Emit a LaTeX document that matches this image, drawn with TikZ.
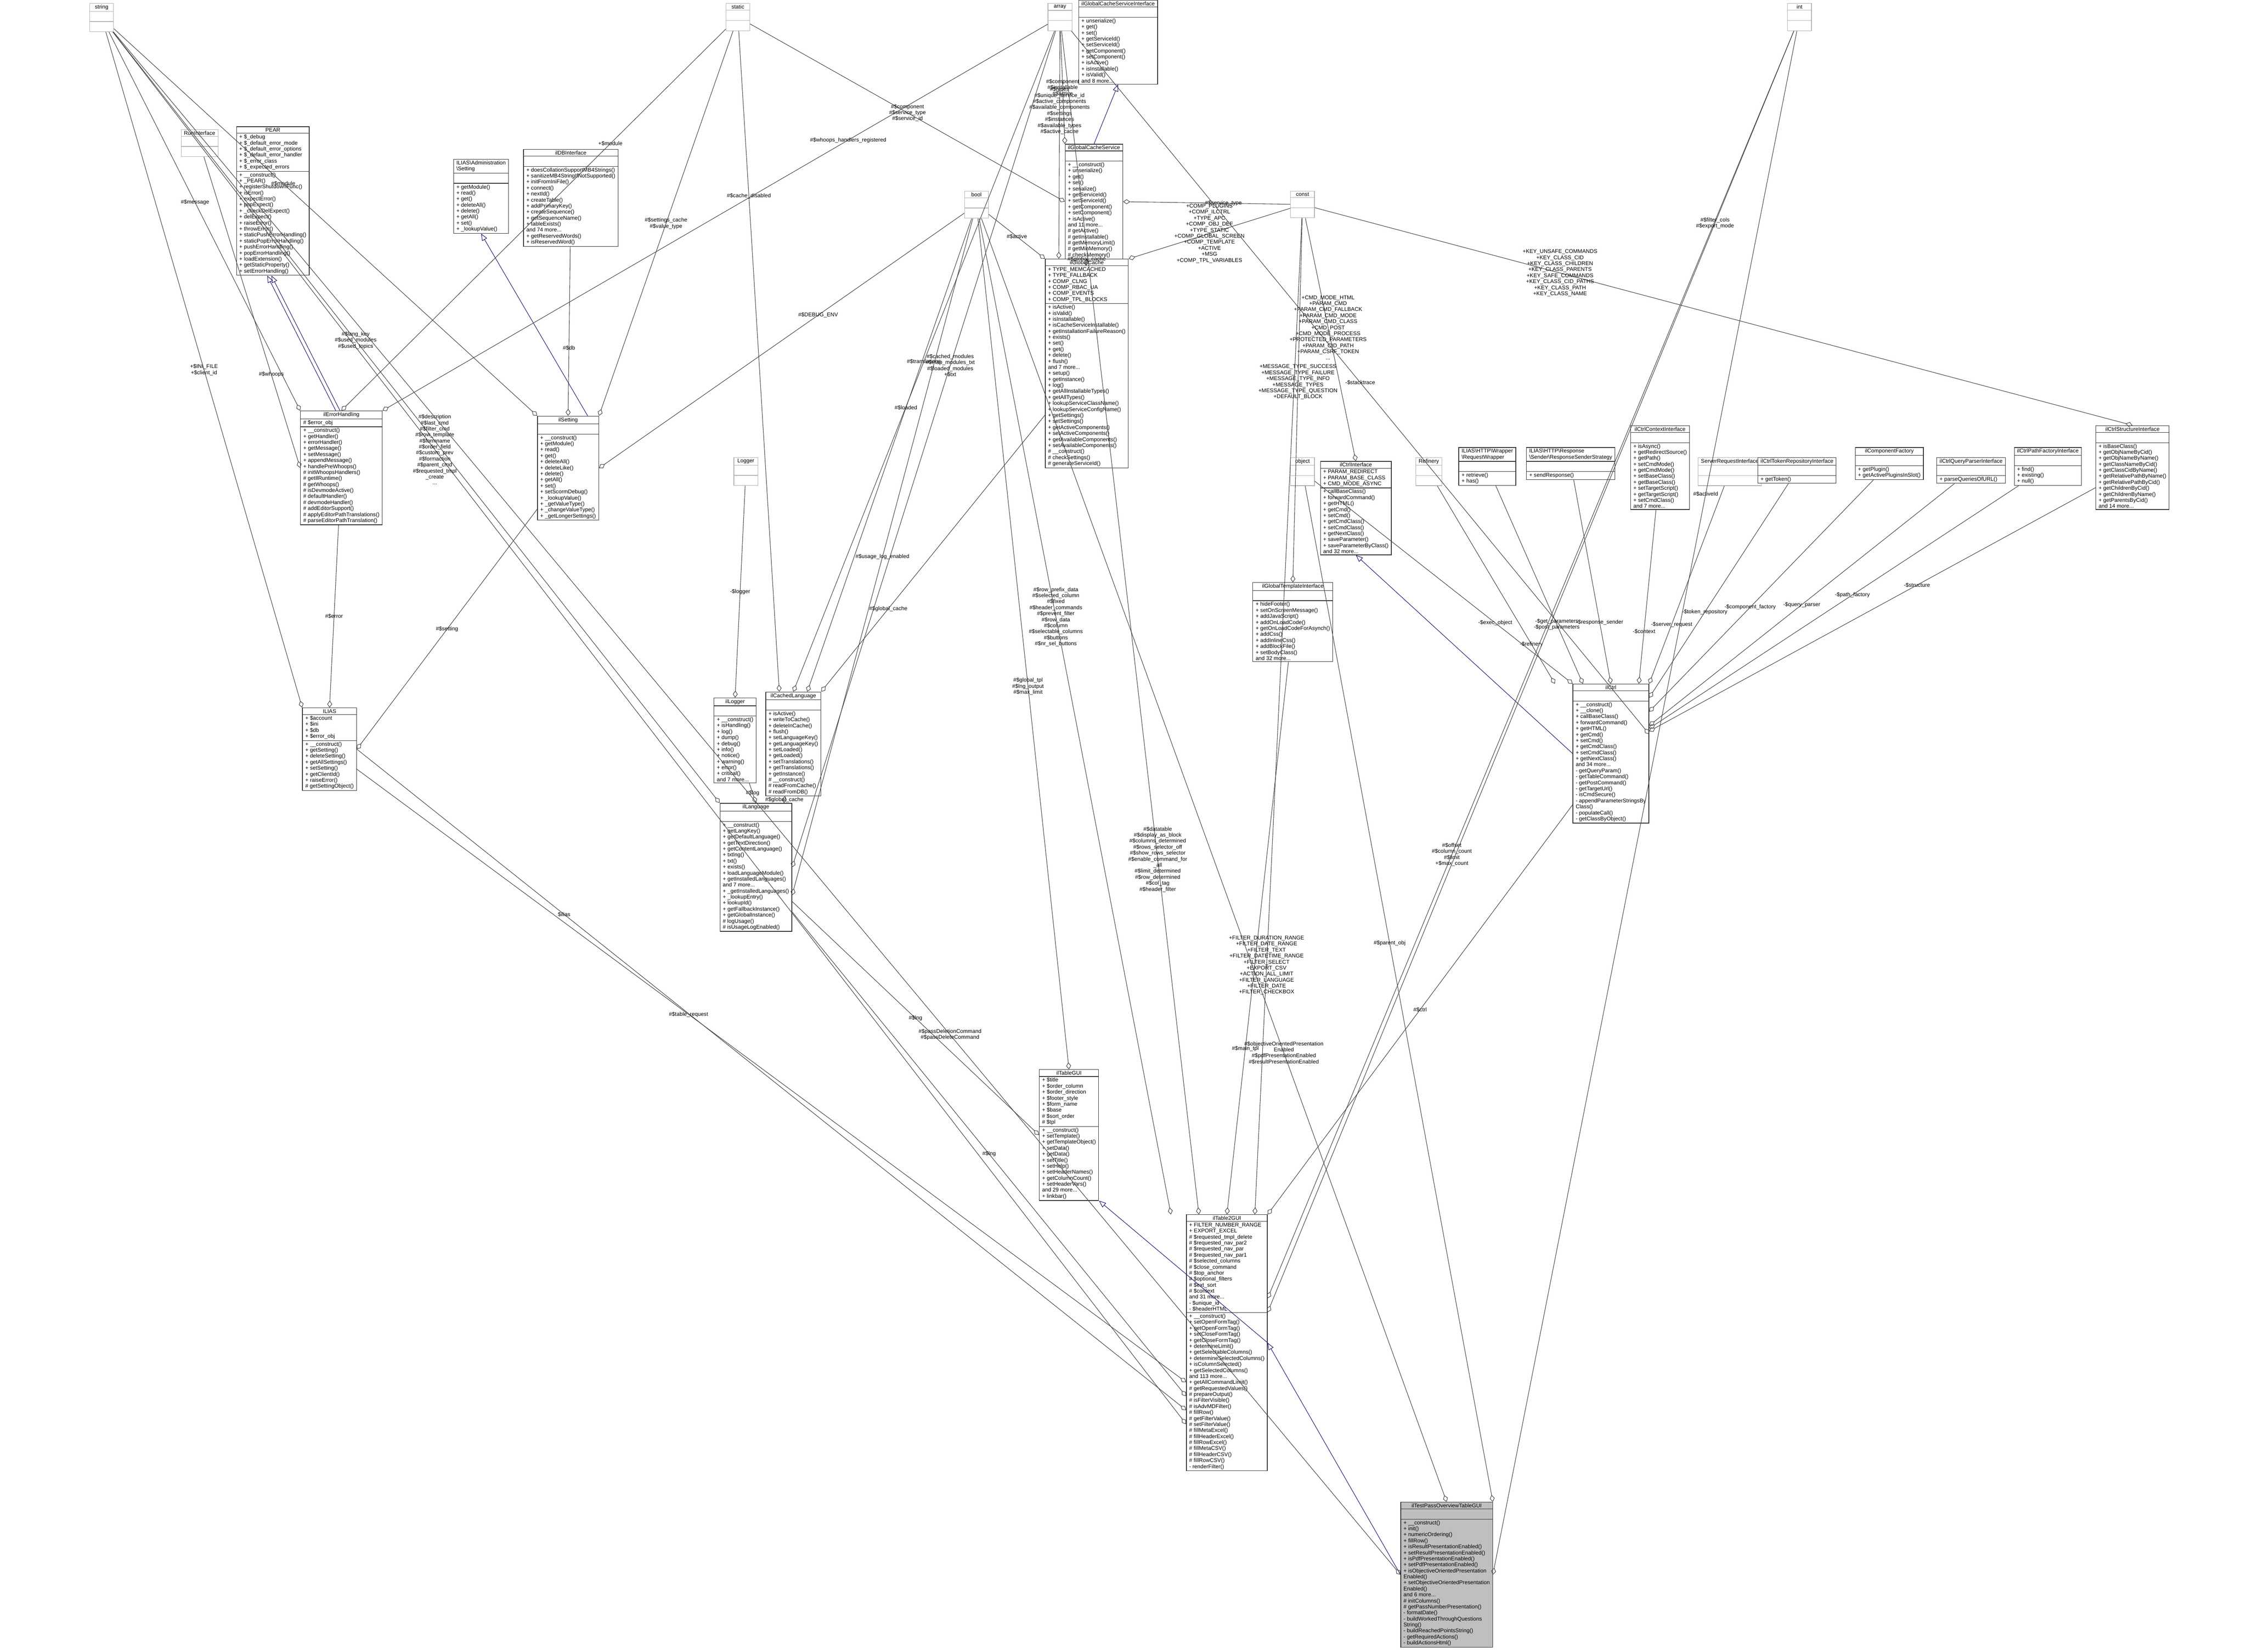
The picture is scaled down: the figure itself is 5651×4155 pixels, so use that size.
\documentclass[tikz,border=0pt]{standalone}
\usepackage{fontspec}
\setmainfont{Liberation Sans}
\usetikzlibrary{shapes.multipart,arrows.meta}
\definecolor{midnight}{HTML}{191970}
\newcommand\cfont{\fontsize{3.9}{4.3}\selectfont}

\begin{document}
\begin{tikzpicture}[
    x=0.01cm, y=-0.01cm,
    cls/.style={rectangle split, rectangle split parts=3, draw=black!80, line width=0.4pt,
        fill=white, anchor=north west, font=\cfont, align=left, inner xsep=2pt, inner ysep=0.8pt,
        rectangle split part align={center,left,left}, rectangle split empty part height=3pt},
    undoc/.style={cls, draw=black!30, minimum width=#1},
    undoc/.default=1.5cm,
    agg/.style={draw=black!75, line width=0.35pt, {Diamond[open,length=5pt,width=3.5pt]}-},
    inh/.style={draw=midnight, line width=0.35pt, -{Triangle[open,length=5pt,width=4pt]}},
    lbl/.style={font=\cfont, align=center, inner sep=0.5pt}
]
    \useasboundingbox (0,0) rectangle (5651,4155);

    % Types without documentation
    \node[undoc=0.6cm] (string) at (225,8) {string\nodepart{two}\nodepart{three}};
    \node[undoc=0.6cm] (static) at (1825,8) {static\nodepart{two}\nodepart{three}};
    \node[undoc=0.6cm] (array) at (2635,8) {array\nodepart{two}\nodepart{three}};
    \node[undoc=0.6cm] (int) at (4495,8) {int\nodepart{two}\nodepart{three}};
    \node[undoc=0.6cm] (bool) at (2425,480) {bool\nodepart{two}\nodepart{three}};
    \node[undoc=0.6cm] (const) at (3245,480) {const\nodepart{two}\nodepart{three}};
    \node[undoc=0.6cm] (object) at (3245,1150) {object\nodepart{two}\nodepart{three}};
    \node[undoc=0.6cm] (refinery) at (3560,1150) {Refinery\nodepart{two}\nodepart{three}};
    \node[undoc=0.6cm] (logger) at (1845,1150) {Logger\nodepart{two}\nodepart{three}};
    \node[undoc=0.7cm] (runif) at (455,325) {RunInterface\nodepart{two}\nodepart{three}};
    \node[undoc=1.3cm] (serverreq) at (4270,1150) {ServerRequestInterface\nodepart{two}\nodepart{three}};

    % Interfaces and classes, upper part
    \node[cls] (cacheif) at (2712,0) {ilGlobalCacheServiceInterface
        \nodepart{two}
        \nodepart{three}+ unserialize()\\+ get()\\+ set()\\+ getServiceId()\\+ setServiceId()\\+ getComponent()\\+ setComponent()\\+ isActive()\\+ isInstallable()\\+ isValid()\\and 8 more...};
    \node[cls] (pear) at (594,318) {PEAR
        \nodepart{two}+ \$\_debug\\+ \$\_default\_error\_mode\\+ \$\_default\_error\_options\\+ \$\_default\_error\_handler\\+ \$\_error\_class\\+ \$\_expected\_errors
        \nodepart{three}+ \_\_construct()\\+ \_PEAR()\\+ registerShutdownFunc()\\+ isError()\\+ expectError()\\+ popExpect()\\+ \_checkDelExpect()\\+ delExpect()\\+ raiseError()\\+ throwError()\\+ staticPushErrorHandling()\\+ staticPopErrorHandling()\\+ pushErrorHandling()\\+ popErrorHandling()\\+ loadExtension()\\+ getStaticProperty()\\+ setErrorHandling()};
    \node[cls] (adminsetting) at (1140,400) {ILIAS\textbackslash Administration\\\textbackslash Setting
        \nodepart{two}
        \nodepart{three}+ getModule()\\+ read()\\+ get()\\+ deleteAll()\\+ delete()\\+ getAll()\\+ set()\\+ \_lookupValue()};
    \node[cls] (dbif) at (1316,375) {ilDBInterface
        \nodepart{two}
        \nodepart{three}+ doesCollationSupportMB4Strings()\\+ sanitizeMB4StringIfNotSupported()\\+ initFromIniFile()\\+ connect()\\+ nextId()\\+ createTable()\\+ addPrimaryKey()\\+ createSequence()\\+ getSequenceName()\\+ tableExists()\\and 74 more...\\+ getReservedWords()\\+ isReservedWord()};
    \node[cls] (cacheservice) at (2678,362) {ilGlobalCacheService
        \nodepart{two}
        \nodepart{three}+ \_\_construct()\\+ unserialize()\\+ get()\\+ set()\\+ serialize()\\+ getServiceId()\\+ setServiceId()\\+ getComponent()\\+ setComponent()\\+ isActive()\\and 11 more...\\\# getActive()\\\# getInstallable()\\\# getMemoryLimit()\\\# getMinMemory()\\\# checkMemory()};
    \node[cls] (globalcache) at (2628,651) {ilGlobalCache
        \nodepart{two}+ TYPE\_MEMCACHED\\+ TYPE\_FALLBACK\\+ COMP\_CLNG\\+ COMP\_RBAC\_UA\\+ COMP\_EVENTS\\+ COMP\_TPL\_BLOCKS
        \nodepart{three}+ isActive()\\+ isValid()\\+ isInstallable()\\+ isCacheServiceInstallable()\\+ getInstallationFailureReason()\\+ exists()\\+ set()\\+ get()\\+ delete()\\+ flush()\\and 7 more...\\+ setup()\\+ getInstance()\\+ log()\\+ getAllInstallableTypes()\\+ getAllTypes()\\+ lookupServiceClassName()\\+ lookupServiceConfigName()\\+ getSettings()\\+ setSettings()\\+ getActiveComponents()\\+ setActiveComponents()\\+ getAvailableComponents()\\+ setAvailableComponents()\\\# \_\_construct()\\\# checkSettings()\\\# generateServiceId()};
    \node[cls] (errorhandling) at (755,1033) {ilErrorHandling
        \nodepart{two}\# \$error\_obj
        \nodepart{three}+ \_\_construct()\\+ getHandler()\\+ errorHandler()\\+ getMessage()\\+ setMessage()\\+ appendMessage()\\+ handlePreWhoops()\\\# initWhoopsHandlers()\\\# getIlRuntime()\\\# getWhoops()\\\# isDevmodeActive()\\\# defaultHandler()\\\# devmodeHandler()\\\# addEditorSupport()\\\# applyEditorPathTranslations()\\\# parseEditorPathTranslation()};
    \node[cls] (setting) at (1351,1046) {ilSetting
        \nodepart{two}
        \nodepart{three}+ \_\_construct()\\+ getModule()\\+ read()\\+ get()\\+ deleteAll()\\+ deleteLike()\\+ delete()\\+ getAll()\\+ set()\\+ setScormDebug()\\+ \_lookupValue()\\+ \_getValueType()\\+ \_changeValueType()\\+ \_getLongerSettings()};

    % Interfaces used by ilCtrl
    \node[cls] (ctrlif) at (3320,1160) {ilCtrlInterface
        \nodepart{two}+ PARAM\_REDIRECT\\+ PARAM\_BASE\_CLASS\\+ CMD\_MODE\_ASYNC
        \nodepart{three}+ callBaseClass()\\+ forwardCommand()\\+ getHTML()\\+ getCmd()\\+ setCmd()\\+ getCmdClass()\\+ setCmdClass()\\+ getNextClass()\\+ saveParameter()\\+ saveParameterByClass()\\and 32 more...};
    \node[cls] (wrapper) at (3668,1125) {ILIAS\textbackslash HTTP\textbackslash Wrapper\\\textbackslash RequestWrapper
        \nodepart{two}
        \nodepart{three}+ retrieve()\\+ has()};
    \node[cls] (sender) at (3838,1125) {ILIAS\textbackslash HTTP\textbackslash Response\\\textbackslash Sender\textbackslash ResponseSenderStrategy
        \nodepart{two}
        \nodepart{three}+ sendResponse()};
    \node[cls] (ctxif) at (4100,1070) {ilCtrlContextInterface
        \nodepart{two}
        \nodepart{three}+ isAsync()\\+ getRedirectSource()\\+ getPath()\\+ setCmdMode()\\+ getCmdMode()\\+ setBaseClass()\\+ getBaseClass()\\+ setTargetScript()\\+ getTargetScript()\\+ setCmdClass()\\and 7 more...};
    \node[cls] (tokenif) at (4420,1150) {ilCtrlTokenRepositoryInterface
        \nodepart{two}
        \nodepart{three}+ getToken()};
    \node[cls] (compfactory) at (4665,1125) {ilComponentFactory
        \nodepart{two}
        \nodepart{three}+ getPlugin()\\+ getActivePluginsInSlot()};
    \node[cls] (queryif) at (4870,1150) {ilCtrlQueryParserInterface
        \nodepart{two}
        \nodepart{three}+ parseQueriesOfURL()};
    \node[cls] (pathif) at (5065,1125) {ilCtrlPathFactoryInterface
        \nodepart{two}
        \nodepart{three}+ find()\\+ existing()\\+ null()};
    \node[cls] (structif) at (5270,1070) {ilCtrlStructureInterface
        \nodepart{two}
        \nodepart{three}+ isBaseClass()\\+ getObjNameByCid()\\+ getObjNameByName()\\+ getClassNameByCid()\\+ getClassCidByName()\\+ getRelativePathByName()\\+ getRelativePathByCid()\\+ getChildrenByCid()\\+ getChildrenByName()\\+ getParentsByCid()\\and 14 more...};
    \node[cls] (tplif) at (3150,1465) {ilGlobalTemplateInterface
        \nodepart{two}
        \nodepart{three}+ hideFooter()\\+ setOnScreenMessage()\\+ addJavaScript()\\+ addOnLoadCode()\\+ getOnLoadCodeForAsynch()\\+ addCss()\\+ addInlineCss()\\+ addBlockFile()\\+ setBodyClass()\\and 32 more...};

    % Middle part
    \node[cls] (illogger) at (1795,1755) {ilLogger
        \nodepart{two}
        \nodepart{three}+ \_\_construct()\\+ isHandling()\\+ log()\\+ dump()\\+ debug()\\+ info()\\+ notice()\\+ warning()\\+ error()\\+ critical()\\and 7 more...};
    \node[cls] (cachedlang) at (1925,1740) {ilCachedLanguage
        \nodepart{two}
        \nodepart{three}+ isActive()\\+ writeToCache()\\+ deleteInCache()\\+ flush()\\+ setLanguageKey()\\+ getLanguageKey()\\+ setLoaded()\\+ getLoaded()\\+ setTranslations()\\+ getTranslations()\\+ getInstance()\\\# \_\_construct()\\\# readFromCache()\\\# readFromDB()};
    \node[cls] (ctrl) at (3955,1720) {ilCtrl
        \nodepart{two}
        \nodepart{three}+ \_\_construct()\\+ \_\_clone()\\+ callBaseClass()\\+ forwardCommand()\\+ getHTML()\\+ getCmd()\\+ setCmd()\\+ getCmdClass()\\+ setCmdClass()\\+ getNextClass()\\and 34 more...\\- getQueryParam()\\- getTableCommand()\\- getPostCommand()\\- getTargetUrl()\\- isCmdSecure()\\- appendParameterStringsBy\\Class()\\- populateCall()\\- getClassByObject()};
    \node[cls] (ilias) at (760,1780) {ILIAS
        \nodepart{two}+ \$account\\+ \$ini\\+ \$db\\+ \$error\_obj
        \nodepart{three}+ \_\_construct()\\+ getSetting()\\+ deleteSetting()\\+ getAllSettings()\\+ setSetting()\\+ getClientId()\\+ raiseError()\\\# getSettingObject()};
    \node[cls] (language) at (1810,2020) {ilLanguage
        \nodepart{two}
        \nodepart{three}+ \_\_construct()\\+ getLangKey()\\+ getDefaultLanguage()\\+ getTextDirection()\\+ getContentLanguage()\\+ txtlng()\\+ txt()\\+ exists()\\+ loadLanguageModule()\\+ getInstalledLanguages()\\and 7 more...\\+ \_getInstalledLanguages()\\+ \_lookupEntry()\\+ lookupId()\\+ getFallbackInstance()\\+ getGlobalInstance()\\\# logUsage()\\\# isUsageLogEnabled()};

    % Table classes
    \node[cls] (tablegui) at (2613,2690) {ilTableGUI
        \nodepart{two}+ \$title\\+ \$order\_column\\+ \$order\_direction\\+ \$footer\_style\\+ \$form\_name\\+ \$base\\\# \$sort\_order\\\# \$tpl
        \nodepart{three}+ \_\_construct()\\+ setTemplate()\\+ getTemplateObject()\\+ setData()\\+ getData()\\+ setTitle()\\+ setHelp()\\+ setHeaderNames()\\+ getColumnCount()\\+ setHeaderVars()\\and 29 more...\\+ linkbar()};
    \node[cls] (table2gui) at (2983,3055) {ilTable2GUI
        \nodepart{two}+ FILTER\_NUMBER\_RANGE\\+ EXPORT\_EXCEL\\\# \$requested\_tmpl\_delete\\\# \$requested\_nav\_par2\\\# \$requested\_nav\_par\\\# \$requested\_nav\_par1\\\# \$selected\_columns\\\# \$close\_command\\\# \$top\_anchor\\\# \$optional\_filters\\\# \$ext\_sort\\\# \$context\\and 31 more...\\- \$unique\_id\\- \$headerHTML
        \nodepart{three}+ \_\_construct()\\+ setOpenFormTag()\\+ getOpenFormTag()\\+ setCloseFormTag()\\+ getCloseFormTag()\\+ determineLimit()\\+ getSelectableColumns()\\+ determineSelectedColumns()\\+ isColumnSelected()\\+ getSelectedColumns()\\and 113 more...\\+ getAllCommandLimit()\\\# getRequestedValues()\\\# prepareOutput()\\\# isFilterVisible()\\\# isAdvMDFilter()\\\# fillRow()\\\# getFilterValue()\\\# setFilterValue()\\\# fillMetaExcel()\\\# fillHeaderExcel()\\\# fillRowExcel()\\\# fillMetaCSV()\\\# fillHeaderCSV()\\\# fillRowCSV()\\- renderFilter()};
    \node[cls, fill=black!25] (passtable) at (3522,3778) {ilTestPassOverviewTableGUI
        \nodepart{two}
        \nodepart{three}+ \_\_construct()\\+ init()\\+ numericOrdering()\\+ fillRow()\\+ isResultPresentationEnabled()\\+ setResultPresentationEnabled()\\+ isPdfPresentationEnabled()\\+ setPdfPresentationEnabled()\\+ isObjectiveOrientedPresentation\\Enabled()\\+ setObjectiveOrientedPresentation\\Enabled()\\and 6 more...\\\# initColumns()\\\# getPassNumberPresentation()\\- formatDate()\\- buildWorkedThroughQuestions\\String()\\- buildReachedPointsString()\\- getRequiredActions()\\- buildActionsHtml()};

    % Inheritance
    \draw[inh] ([xshift=-4pt]errorhandling.north) -- ([xshift=-4pt]pear.south);
    \draw[inh] ([xshift=-1pt]errorhandling.north) -- ([xshift=-1pt]pear.south);
    \draw[inh] ([xshift=14pt]setting.north) -- (adminsetting.south);
    \draw[inh] (cacheservice.north) -- (cacheif.south);
    \draw[inh] (ctrl.west) -- (ctrlif.south);
    \draw[inh] (table2gui.east) -- (tablegui.south east);
    \draw[inh] (passtable.west) -- (table2gui.east);

    % Members of ilErrorHandling, ilSetting, ILIAS
    \draw[agg] (errorhandling.north west) -- node[lbl, pos=0.55]{\#\$message} (string);
    \draw[agg] (errorhandling.north) -- node[lbl, pos=0.7]{+\$module} (static);
    \draw[agg] (errorhandling.north east) -- node[lbl, pos=0.7]{\#\$whoops\_handlers\_registered} (array);
    \draw[agg] (errorhandling.west) -- node[lbl, pos=0.3]{\#\$whoops} (runif);
    \draw[agg] (setting.north) -- node[lbl, pos=0.4]{\#\$db} (dbif);
    \draw[agg] (setting.north west) -- node[lbl, pos=0.6]{\#\$module} (string);
    \draw[agg] (setting.north east) -- node[lbl, pos=0.5]{\#\$settings\_cache\\\#\$value\_type} (static);
    \draw[agg] (setting.east) -- node[lbl, pos=0.6]{\#\$DEBUG\_ENV} (bool);
    \draw[agg] (ilias.north) -- node[lbl, pos=0.5]{\#\$error} (errorhandling);
    \draw[agg] (ilias.east) -- node[lbl, pos=0.5]{\#\$setting} (setting);
    \draw[agg] (ilias.north west) -- node[lbl, pos=0.5]{+\$INI\_FILE\\+\$client\_id} (string);

    % Members of the cache classes
    \draw[agg] (cacheservice.north west) -- node[lbl, pos=0.5]{\#\$component\\\#\$installable\\\#\$active} (array);
    \draw[agg] (cacheservice.west) -- node[lbl, pos=0.5]{\#\$component\\\#\$service\_type\\\#\$service\_id} (static);
    \draw[agg] (cacheservice.east) -- node[lbl, pos=0.6]{\#\$service\_type} (const);
    \draw[agg] (globalcache.north) -- node[lbl, pos=0.5]{\#\$global\_cache} (cacheservice);
    \draw[agg] (globalcache.north west) -- node[lbl, pos=0.5]{\#\$active} (bool);
    \draw[agg] ([xshift=-20pt]globalcache.north) -- node[lbl, pos=0.65]{\#\$types\\\#\$unique\_service\_id\\\#\$active\_components\\\#\$available\_components\\\#\$settings\\\#\$instances\\\#\$available\_types\\\#\$active\_cache} (array);
    \draw[agg] (globalcache.north east) -- node[lbl, pos=0.5]{+COMP\_PLUGINS\\+COMP\_ILCTRL\\+TYPE\_APC\\+COMP\_OBJ\_DEF\\+TYPE\_STATIC\\+COMP\_GLOBAL\_SCREEN\\+COMP\_TEMPLATE\\+ACTIVE\\+MSG\\+COMP\_TPL\_VARIABLES} (const);

    % Members of the language classes
    \draw[agg] (cachedlang.north east) -- node[lbl, pos=0.3]{\#\$global\_cache} (globalcache);
    \draw[agg] (cachedlang.north) -- node[lbl, pos=0.5]{\#\$translations} (array);
    \draw[agg] ([xshift=10pt]cachedlang.north) -- node[lbl, pos=0.6]{\#\$loaded} (bool);
    \draw[agg] ([xshift=-10pt]cachedlang.north) -- node[lbl, pos=0.75]{\#\$cache\_disabled} (static);
    \draw[agg] (illogger.north) -- node[lbl, pos=0.5]{-\$logger} (logger);
    \draw[agg] (language.north) -- node[lbl, pos=0.5]{\#\$log} (illogger);
    \draw[agg] ([xshift=20pt]language.north) -- node[lbl, pos=0.5]{\#\$global\_cache} (cachedlang);
    \draw[agg] (language.north west) -- node[lbl, pos=0.6]{\#\$lang\_key\\\#\$used\_modules\\\#\$used\_topics} (string);
    \draw[agg] (language.east) -- node[lbl, pos=0.6]{\#\$cached\_modules\\\#\$map\_modules\_txt\\\#\$loaded\_modules\\+\$txt} (array);
    \draw[agg] ([yshift=-20pt]language.east) -- node[lbl, pos=0.5]{\#\$usage\_log\_enabled} (bool);

    % Members of ilCtrl
    \draw[agg] (ctrl.north west) -- node[lbl, pos=0.3]{-\$exec\_object} (object);
    \draw[agg] ([xshift=-40pt]ctrl.north) -- node[lbl, pos=0.2]{-\$refinery} (refinery);
    \draw[agg] ([xshift=-20pt]ctrl.north) -- node[lbl, pos=0.3]{-\$get\_parameters\\-\$post\_parameters} (wrapper);
    \draw[agg] (ctrl.north) -- node[lbl, pos=0.3]{-\$response\_sender} (sender);
    \draw[agg] ([xshift=20pt]ctrl.north) -- node[lbl, pos=0.3]{-\$context} (ctxif);
    \draw[agg] (ctrl.north east) -- node[lbl, pos=0.3]{-\$server\_request} (serverreq);
    \draw[agg] ([yshift=-10pt]ctrl.north east) -- node[lbl, pos=0.4]{-\$token\_repository} (tokenif);
    \draw[agg] ([yshift=-20pt]ctrl.north east) -- node[lbl, pos=0.45]{-\$component\_factory} (compfactory);
    \draw[agg] ([yshift=-30pt]ctrl.north east) -- node[lbl, pos=0.5]{-\$query\_parser} (queryif);
    \draw[agg] ([yshift=-32pt]ctrl.north east) -- node[lbl, pos=0.55]{-\$path\_factory} (pathif);
    \draw[agg] ([yshift=-34pt]ctrl.north east) -- node[lbl, pos=0.6]{-\$structure} (structif);
    \draw[agg] ([yshift=-36pt]ctrl.north east) -- node[lbl, pos=0.5]{-\$stacktrace} (array);
    \draw[agg] (ctrlif.north) -- node[lbl, pos=0.55]{+CMD\_MODE\_HTML\\+PARAM\_CMD\\+PARAM\_CMD\_FALLBACK\\+PARAM\_CMD\_MODE\\+PARAM\_CMD\_CLASS\\+CMD\_POST\\+CMD\_MODE\_PROCESS\\+PROTECTED\_PARAMETERS\\+PARAM\_CID\_PATH\\+PARAM\_CSRF\_TOKEN\\...} (const);
    \draw[agg] (structif.north) -- node[lbl, pos=0.7]{+KEY\_UNSAFE\_COMMANDS\\+KEY\_CLASS\_CID\\+KEY\_CLASS\_CHILDREN\\+KEY\_CLASS\_PARENTS\\+KEY\_SAFE\_COMMANDS\\+KEY\_CLASS\_CID\_PATHS\\+KEY\_CLASS\_PATH\\+KEY\_CLASS\_NAME} (const);
    \draw[agg] (tplif.north) -- node[lbl, pos=0.55]{+MESSAGE\_TYPE\_SUCCESS\\+MESSAGE\_TYPE\_FAILURE\\+MESSAGE\_TYPE\_INFO\\+MESSAGE\_TYPES\\+MESSAGE\_TYPE\_QUESTION\\+DEFAULT\_BLOCK} (const);

    % Members of the table classes
    \draw[agg] (tablegui.north) -- node[lbl, pos=0.45]{\#\$global\_tpl\\\#\$lng\_output\\\#\$max\_limit} (bool);
    \draw[agg] (tablegui.west) -- node[lbl, pos=0.5]{\#\$lng} (language);
    \draw[agg] (table2gui.north) -- node[lbl, pos=0.3]{\#\$main\_tpl} (tplif);
    \draw[agg] (table2gui.north east) -- node[lbl, pos=0.5]{\#\$ctrl} (ctrl);
    \draw[agg] ([yshift=-130pt]table2gui.north west) -- node[lbl, pos=0.5]{\#\$lng} (language);
    \draw[agg] ([yshift=-120pt]table2gui.north west) -- node[lbl, pos=0.6]{\#\$table\_request} (ilias);
    \draw[agg] ([yshift=-140pt]table2gui.north west) -- node[lbl, pos=0.75]{\$ilias} (ilias.east);
    \draw[agg] ([yshift=-150pt]table2gui.north west) -- node[lbl, pos=0.7]{\#\$description\\\#\$last\_cmd\\\#\$filter\_cmd\\\#\$row\_template\\\#\$formname\\\#\$order\_field\\\#\$custom\_prev\\\#\$formaction\\\#\$parent\_cmd\\\#\$requested\_tmpl\\\_create\\...} (string);
    \draw[agg] ([xshift=-40pt]table2gui.north) -- node[lbl, pos=0.6]{\#\$row\_prefix\_data\\\#\$selected\_column\\\#\$fixed\\\#\$header\_commands\\\#\$prevent\_filter\\\#\$row\_data\\\#\$column\\\#\$selectable\_columns\\\#\$buttons\\\#\$nr\_sel\_buttons} (bool);
    \draw[agg] ([xshift=-20pt]table2gui.north) -- node[lbl, pos=0.3]{\#\$datatable\\\#\$display\_as\_block\\\#\$columns\_determined\\\#\$rows\_selector\_off\\\#\$show\_rows\_selector\\\#\$enable\_command\_for\\\_all\\\#\$limit\_determined\\\#\$row\_determined\\\#\$col\_tag\\\#\$header\_filter} (array);
    \draw[agg] ([xshift=20pt]table2gui.north) -- node[lbl, pos=0.25]{+FILTER\_DURATION\_RANGE\\+FILTER\_DATE\_RANGE\\+FILTER\_TEXT\\+FILTER\_DATETIME\_RANGE\\+FILTER\_SELECT\\+EXPORT\_CSV\\+ACTION\_ALL\_LIMIT\\+FILTER\_LANGUAGE\\+FILTER\_DATE\\+FILTER\_CHECKBOX} (const);
    \draw[agg] ([yshift=-60pt]table2gui.north east) -- node[lbl, pos=0.35]{\#\$offset\\\#\$column\_count\\\#\$limit\\+\$max\_count} (int);
    \draw[agg] ([yshift=-70pt]table2gui.north east) -- node[lbl, pos=0.85]{\#\$filter\_cols\\\#\$export\_mode} (int);
    \draw[agg] (passtable.north) -- node[lbl, pos=0.35]{\#\$objectiveOrientedPresentation\\Enabled\\\#\$pdfPresentationEnabled\\\#\$resultPresentationEnabled} (bool);
    \draw[agg] (passtable.north east) -- node[lbl, pos=0.55]{\#\$parent\_obj} (object);
    \draw[agg] (passtable.west) -- node[lbl, pos=0.35]{\#\$passDeletionCommand\\\#\$passDeleteCommand} (string);
    \draw[agg] (passtable.east) -- node[lbl, pos=0.7]{\#\$activeId} (int);
\end{tikzpicture}
\end{document}
